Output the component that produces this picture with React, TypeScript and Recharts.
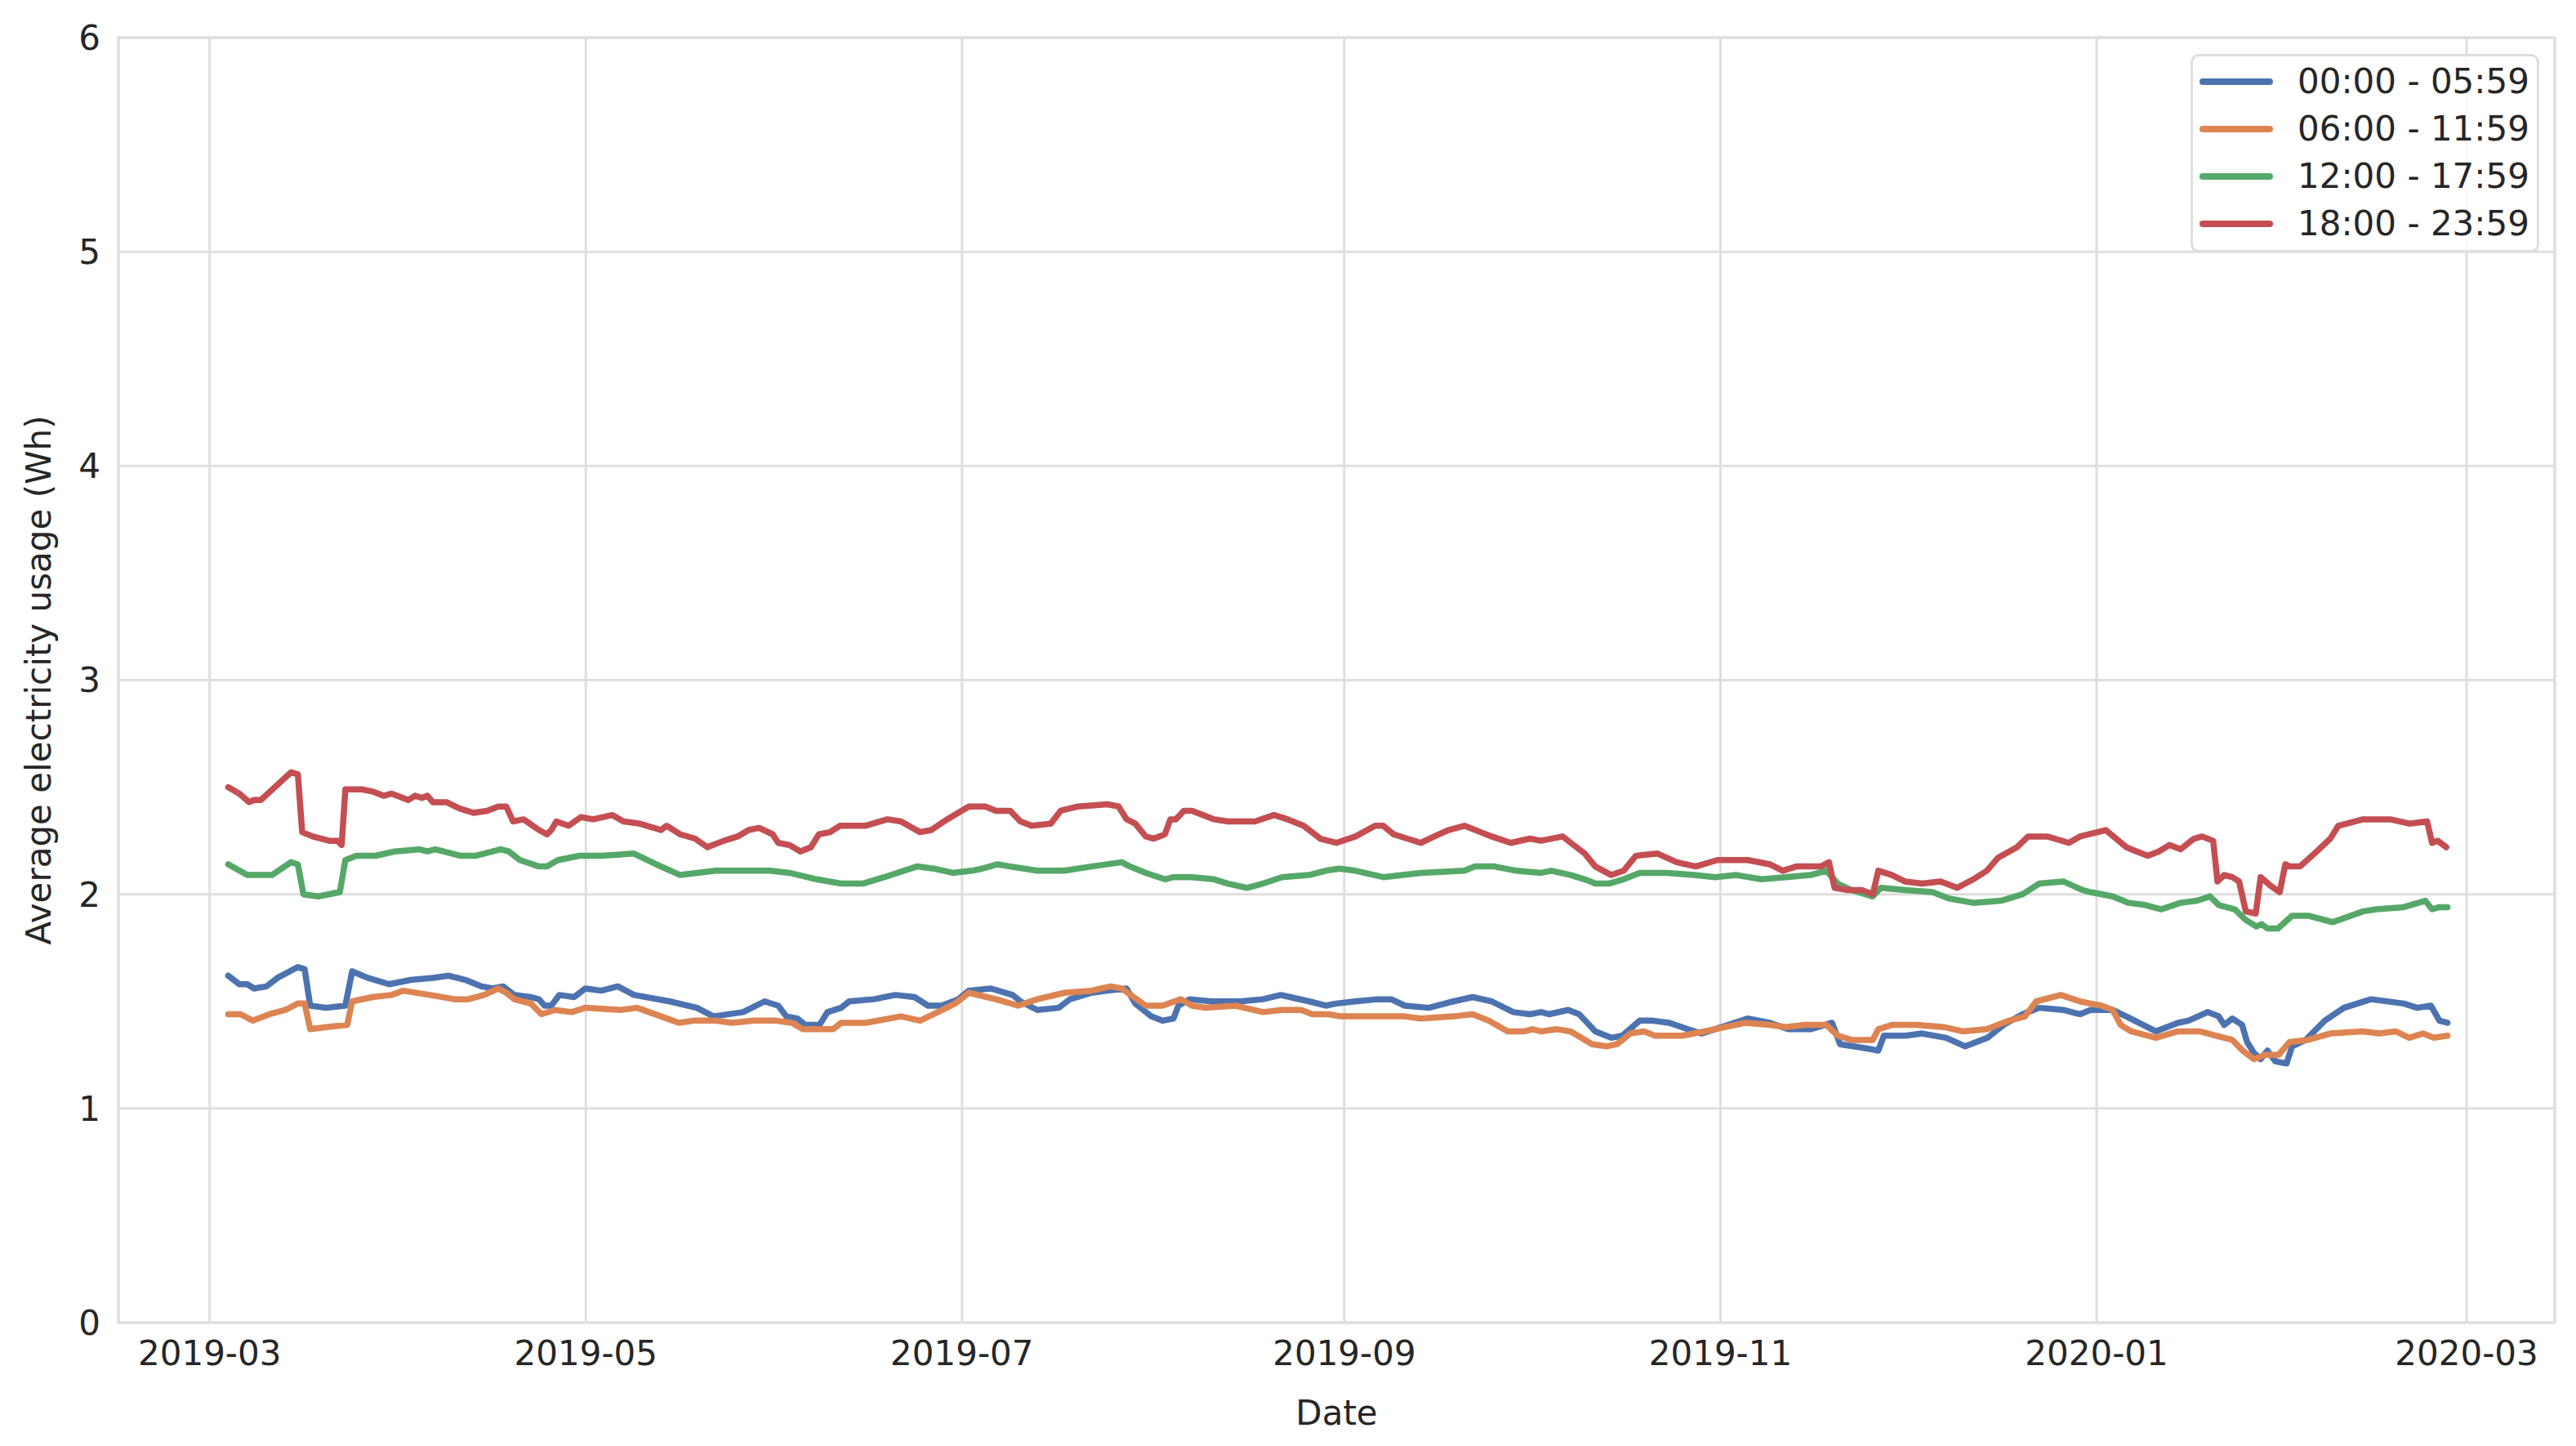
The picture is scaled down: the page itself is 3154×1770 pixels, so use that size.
import React from 'react';
import { LineChart, Line, XAxis, YAxis, CartesianGrid, ReferenceArea } from 'recharts';

// Day offsets are counted from 2019-03-01
const START = Date.UTC(2019, 2, 1);
const DAY = 86400000;

const tickLabels = ['2019-03', '2019-05', '2019-07', '2019-09', '2019-11', '2020-01', '2020-03'];
const yTicks = [0, 1, 2, 3, 4, 5, 6];

const blueDays = [3.0, 4.8, 6.1, 7.2, 9.2, 11.0, 14.3, 15.4, 16.3, 18.9, 22.0, 23.1, 25.6, 29.1, 32.6, 36.2, 38.8, 41.5, 44.1, 45.9, 47.6, 49.4, 52.1, 53.4, 54.3, 55.4, 56.7, 59.1, 60.9,
  63.5, 66.2, 68.8, 74.6, 79.0, 81.7, 86.5, 90.0, 92.2, 93.5, 95.3, 96.6, 98.9, 100.2, 102.4, 103.7, 107.7, 111.2, 114.3, 116.5, 118.7, 121.4,
  123.1, 126.7, 130.2, 131.5, 134.2, 137.7, 139.5, 143.0, 145.6, 148.7, 150.1, 152.7, 154.5, 156.3, 157.1, 158.9, 162.4, 164.6, 167.3, 170.8, 173.7, 175.2, 178.3, 181.0, 182.7,
  185.8, 189.4, 191.6, 193.8, 197.7, 201.7, 204.8, 207.9, 211.4, 214.1, 215.9, 217.2, 220.3, 222.1, 224.7, 227.3, 229.1, 231.9, 234.0, 236.7, 239.7, 241.9,
  244.1, 249.4, 253.0, 256.0, 259.6, 263.1, 264.4, 266.6, 268.8, 270.6, 271.5, 275.0, 277.7, 281.6, 284.7, 288.3, 290.9, 294.0, 296.7, 300.6, 303.3,
  305.0, 308.6, 310.8, 315.6, 319.2, 320.9, 324.0, 325.8, 326.7, 328.0, 329.6, 330.4, 331.5, 332.6, 333.7, 335.0, 336.8, 337.7, 339.9, 343.0, 346.1, 350.5, 355.8, 358.0, 360.2, 361.6, 362.9];
const blueValues = [1.62, 1.58, 1.58, 1.56, 1.57, 1.61, 1.66, 1.65, 1.48, 1.47, 1.48, 1.64, 1.61, 1.58, 1.60, 1.61, 1.62, 1.60, 1.57, 1.56, 1.57, 1.53, 1.52, 1.51, 1.48, 1.48, 1.53, 1.52, 1.56,
  1.55, 1.57, 1.53, 1.50, 1.47, 1.43, 1.45, 1.50, 1.48, 1.43, 1.42, 1.39, 1.39, 1.45, 1.47, 1.50, 1.51, 1.53, 1.52, 1.48, 1.48, 1.51,
  1.55, 1.56, 1.53, 1.50, 1.46, 1.47, 1.51, 1.54, 1.55, 1.56, 1.49, 1.43, 1.41, 1.42, 1.48, 1.51, 1.50, 1.50, 1.50, 1.51, 1.53, 1.52, 1.50, 1.48, 1.49,
  1.50, 1.51, 1.51, 1.48, 1.47, 1.50, 1.52, 1.50, 1.45, 1.44, 1.45, 1.44, 1.46, 1.44, 1.36, 1.33, 1.34, 1.41, 1.41, 1.40, 1.37, 1.35,
  1.37, 1.42, 1.40, 1.37, 1.37, 1.40, 1.30, 1.29, 1.28, 1.27, 1.34, 1.34, 1.35, 1.33, 1.29, 1.33, 1.39, 1.44, 1.47, 1.46, 1.44,
  1.46, 1.46, 1.43, 1.36, 1.40, 1.41, 1.45, 1.43, 1.39, 1.42, 1.39, 1.31, 1.26, 1.23, 1.27, 1.22, 1.21, 1.29, 1.32, 1.41, 1.47, 1.51, 1.49, 1.47, 1.48, 1.41, 1.40];

const orangeDays = [3.0, 5.0, 7.0, 9.7, 12.3, 14.3, 15.4, 16.3, 18.9, 22.3, 23.1, 26.4, 29.5, 31.3, 35.7, 39.7, 41.9, 44.5, 46.8, 48.1, 49.4, 52.1, 53.8, 56.0, 58.7, 60.9,
  66.6, 69.3, 73.2, 76.1, 78.5, 82.1, 84.7, 88.3, 91.8, 94.4, 96.2, 98.9, 101.1, 102.4, 106.4, 112.1, 115.2, 117.4, 120.9,
  123.1, 127.5, 131.1, 134.2, 138.6, 143.0, 146.1, 147.9, 151.8, 154.5, 157.5, 159.3, 161.5, 166.4, 170.8, 173.9, 177.0, 178.8, 181.4,
  183.5, 185.4, 187.6, 190.3, 193.8, 196.4, 201.7, 204.8, 207.4, 210.5, 213.2, 214.5, 215.9, 218.5, 220.7, 224.2, 226.5, 228.2, 230.4, 232.6, 234.4, 238.8, 242.4,
  244.1, 249.0, 253.0, 255.6, 258.7, 262.2, 264.0, 266.2, 269.7, 270.6, 272.8, 276.8, 281.2, 284.3, 288.2, 291.8, 294.4, 296.2, 300.2, 303.3,
  305.0, 306.8, 308.6, 309.9, 311.6, 315.6, 319.2, 322.7, 325.3, 328.0, 329.7, 331.5, 333.3, 335.5, 337.3, 340.3, 343.9, 349.2, 351.8, 354.5, 356.7, 358.9, 360.7, 362.9];
const orangeValues = [1.44, 1.44, 1.41, 1.44, 1.46, 1.49, 1.49, 1.37, 1.38, 1.39, 1.50, 1.52, 1.53, 1.55, 1.53, 1.51, 1.51, 1.53, 1.56, 1.54, 1.51, 1.49, 1.44, 1.46, 1.45, 1.47,
  1.46, 1.47, 1.43, 1.40, 1.41, 1.41, 1.40, 1.41, 1.41, 1.40, 1.37, 1.37, 1.37, 1.40, 1.40, 1.43, 1.41, 1.44, 1.49,
  1.54, 1.51, 1.48, 1.51, 1.54, 1.55, 1.57, 1.56, 1.48, 1.48, 1.51, 1.48, 1.47, 1.48, 1.45, 1.46, 1.46, 1.44, 1.44,
  1.43, 1.43, 1.43, 1.43, 1.43, 1.42, 1.43, 1.44, 1.41, 1.36, 1.36, 1.37, 1.36, 1.37, 1.36, 1.30, 1.29, 1.30, 1.35, 1.36, 1.34, 1.34, 1.36,
  1.37, 1.40, 1.39, 1.38, 1.39, 1.39, 1.34, 1.32, 1.32, 1.37, 1.39, 1.39, 1.38, 1.36, 1.37, 1.41, 1.43, 1.50, 1.53, 1.50,
  1.49, 1.48, 1.46, 1.39, 1.36, 1.33, 1.36, 1.36, 1.34, 1.32, 1.27, 1.23, 1.25, 1.25, 1.31, 1.32, 1.35, 1.36, 1.35, 1.36, 1.33, 1.35, 1.33, 1.34];

const greenDays = [3.0, 6.1, 8.3, 10.1, 13.2, 14.3, 15.2, 17.6, 21.1, 22.0, 23.8, 26.9, 30.0, 34.0, 35.3, 36.6, 40.6, 43.2, 47.2, 48.5, 50.3, 53.4, 54.7, 56.5, 60.0,
  63.5, 68.8, 72.4, 76.3, 82.1, 86.5, 90.9, 94.0, 98.4, 102.4, 105.9, 109.4, 114.7, 117.4, 120.5,
  123.6, 125.3, 127.8, 129.8, 134.2, 138.6, 143.0, 147.9, 149.2, 151.8, 154.9, 156.3, 159.3, 162.9, 165.1, 168.2, 170.8, 173.9, 178.3, 181.0,
  183.2, 185.8, 190.3, 196.4, 203.5, 205.2, 208.3, 211.9, 215.9, 217.6, 220.7, 223.0, 224.7, 226.9, 229.3, 231.9, 236.3, 240.7,
  244.1, 247.6, 251.6, 255.6, 259.6, 262.2, 264.0, 266.2, 269.7, 271.0, 275.0, 279.4, 282.1, 286.0, 290.5, 294.0, 296.7, 300.6, 303.7,
  305.0, 308.6, 311.2, 313.9, 316.5, 319.6, 322.3, 324.4, 325.8, 328.4, 330.2, 331.9, 332.8, 333.7, 335.4, 337.7, 340.3, 344.3, 349.2, 351.4, 355.8, 359.3, 360.4, 361.6, 362.9];
const greenValues = [2.14, 2.09, 2.09, 2.09, 2.15, 2.14, 2.00, 1.99, 2.01, 2.16, 2.18, 2.18, 2.20, 2.21, 2.20, 2.21, 2.18, 2.18, 2.21, 2.20, 2.16, 2.13, 2.13, 2.16, 2.18,
  2.18, 2.19, 2.14, 2.09, 2.11, 2.11, 2.11, 2.10, 2.07, 2.05, 2.05, 2.08, 2.13, 2.12, 2.10,
  2.11, 2.12, 2.14, 2.13, 2.11, 2.11, 2.13, 2.15, 2.13, 2.10, 2.07, 2.08, 2.08, 2.07, 2.05, 2.03, 2.05, 2.08, 2.09, 2.11,
  2.12, 2.11, 2.08, 2.10, 2.11, 2.13, 2.13, 2.11, 2.10, 2.11, 2.09, 2.07, 2.05, 2.05, 2.07, 2.10, 2.10, 2.09,
  2.08, 2.09, 2.07, 2.08, 2.09, 2.11, 2.05, 2.02, 1.99, 2.03, 2.02, 2.01, 1.98, 1.96, 1.97, 2.00, 2.05, 2.06, 2.02,
  2.01, 1.99, 1.96, 1.95, 1.93, 1.96, 1.97, 1.99, 1.95, 1.93, 1.88, 1.85, 1.86, 1.84, 1.84, 1.90, 1.90, 1.87, 1.92, 1.93, 1.94, 1.97, 1.93, 1.94, 1.94];

const redDays = [3.0, 4.8, 6.4, 7.2, 8.3, 13.2, 14.3, 15.0, 16.7, 19.4, 20.7, 21.4, 22.0, 24.7, 26.4, 28.2, 29.5, 32.2, 33.3, 34.4, 35.3, 36.2, 38.4, 40.6, 42.8, 45.0, 46.8, 48.1, 49.2, 50.9, 53.4, 54.7, 55.4, 56.2, 58.2, 60.2,
  62.2, 65.3, 67.1, 69.7, 73.2, 74.1, 76.3, 78.7, 80.7, 83.4, 85.6, 87.4, 89.1, 91.3, 92.2, 94.0, 95.8, 97.5, 98.8, 100.6, 102.2, 106.3, 109.9, 112.1, 115.2, 117.0, 119.6,
  123.1, 125.8, 127.5, 129.8, 131.5, 133.3, 136.4, 138.0, 140.8, 145.6, 147.4, 148.7, 150.1, 151.8, 153.1, 154.9, 155.8, 156.7, 158.0, 159.3, 162.9, 165.1, 169.5, 172.6, 174.8, 177.4, 180.1, 182.7,
  185.8, 189.0, 190.3, 192.0, 196.4, 198.6, 200.9, 203.5, 206.1, 207.9, 211.0, 214.1, 215.9, 219.4, 221.2, 223.0, 224.7, 227.3, 229.3, 231.3, 234.8, 237.9, 241.0, 244.5,
  249.4, 253.0, 255.1, 257.3, 259.1, 261.3, 262.6, 263.5, 265.7, 267.9, 269.7, 270.6, 272.8, 274.9, 277.7, 280.7, 283.4, 286.0, 288.2, 290.0, 293.1, 294.9, 298.0, 301.5, 303.3,
  307.5, 310.8, 312.5, 314.3, 316.1, 317.8, 319.6, 321.8, 323.1, 324.9, 325.6, 326.7, 328.0, 329.1, 330.2, 331.8, 332.6, 334.2, 335.7, 336.6, 337.3, 339.0, 341.7, 343.9, 345.2, 349.2, 353.6, 356.7, 359.6, 360.4, 361.3, 362.7];
const redValues = [2.50, 2.47, 2.43, 2.44, 2.44, 2.57, 2.56, 2.29, 2.27, 2.25, 2.25, 2.23, 2.49, 2.49, 2.48, 2.46, 2.47, 2.44, 2.46, 2.45, 2.46, 2.43, 2.43, 2.40, 2.38, 2.39, 2.41, 2.41, 2.34, 2.35, 2.30, 2.28, 2.30, 2.34, 2.32, 2.36,
  2.35, 2.37, 2.34, 2.33, 2.30, 2.32, 2.28, 2.26, 2.22, 2.25, 2.27, 2.30, 2.31, 2.28, 2.24, 2.23, 2.20, 2.22, 2.28, 2.29, 2.32, 2.32, 2.35, 2.34, 2.29, 2.30, 2.35,
  2.41, 2.41, 2.39, 2.39, 2.34, 2.32, 2.33, 2.39, 2.41, 2.42, 2.41, 2.35, 2.33, 2.27, 2.26, 2.28, 2.35, 2.35, 2.39, 2.39, 2.35, 2.34, 2.34, 2.37, 2.35, 2.32, 2.26, 2.24,
  2.27, 2.32, 2.32, 2.28, 2.24, 2.27, 2.30, 2.32, 2.29, 2.27, 2.24, 2.26, 2.25, 2.27, 2.23, 2.19, 2.13, 2.09, 2.11, 2.18, 2.19, 2.15, 2.13, 2.16,
  2.16, 2.14, 2.11, 2.13, 2.13, 2.13, 2.15, 2.03, 2.02, 2.02, 2.00, 2.11, 2.09, 2.06, 2.05, 2.06, 2.03, 2.07, 2.11, 2.17, 2.22, 2.27, 2.27, 2.24, 2.27,
  2.30, 2.22, 2.20, 2.18, 2.20, 2.23, 2.21, 2.26, 2.27, 2.25, 2.06, 2.09, 2.08, 2.06, 1.92, 1.91, 2.08, 2.04, 2.01, 2.14, 2.13, 2.13, 2.20, 2.26, 2.32, 2.35, 2.35, 2.33, 2.34, 2.24, 2.25, 2.22];

const seriesNames = ['00:00 - 05:59', '06:00 - 11:59', '12:00 - 17:59', '18:00 - 23:59'];
const seriesColors = ['#4C72B0', '#DD8452', '#55A868', '#C44E52'];
const seriesDays = [blueDays, orangeDays, greenDays, redDays];
const seriesValues = [blueValues, orangeValues, greenValues, redValues];

const series = seriesNames.map((name, i) => ({
  name,
  color: seriesColors[i],
  data: seriesDays[i].map((d, j) => ({ d, v: seriesValues[i][j] })),
}));

const xTicks = tickLabels.map((s) => {
  const [y, m] = s.split('-').map(Number);
  return Math.round((Date.UTC(y, m - 1, 1) - START) / DAY);
});
const xDomain: [number, number] = [-14.8, 380.3];

const TEXT = '#262626';
const GRID = '#dedede';
const FONT = '"DejaVu Sans", "Liberation Sans", sans-serif';

const YLabel = (props: any) => {
  const vb = props.viewBox || { x: 0, y: 46, width: 145, height: 1573 };
  const cx = vb.x + 62;
  const cy = vb.y + vb.height / 2;
  return (
    <text transform={`translate(${cx}, ${cy}) rotate(-90)`} textAnchor="middle" fontSize={42} fill={TEXT} fontFamily={FONT}>
      Average electricity usage (Wh)
    </text>
  );
};

const XLabel = (props: any) => {
  const vb = props.viewBox || { x: 145, y: 1619, width: 2983, height: 151 };
  return (
    <text x={vb.x + vb.width / 2} y={vb.y + 125} textAnchor="middle" fontSize={42} fill={TEXT} fontFamily={FONT}>
      Date
    </text>
  );
};

export default function App() {
  return (
    <div style={{ position: 'absolute', left: 0, top: 0, width: 3154, height: 1770, background: '#ffffff', fontFamily: FONT }}>
      <LineChart width={3154} height={1770} margin={{ top: 46, right: 26, bottom: 0, left: 0 }}>
        <CartesianGrid stroke={GRID} strokeWidth={3} />
        <XAxis
          type="number"
          dataKey="d"
          domain={xDomain}
          ticks={xTicks}
          allowDataOverflow
          height={151}
          tickLine={false}
          axisLine={false}
          tickSize={0}
          tickMargin={22}
          tick={{ fontSize: 42, fill: TEXT, fontFamily: FONT }}
          tickFormatter={(v: number) => tickLabels[xTicks.indexOf(v)] ?? ''}
          label={{ content: XLabel }}
        />
        <YAxis
          type="number"
          domain={[0, 6]}
          ticks={yTicks}
          width={145}
          tickLine={false}
          axisLine={false}
          tickSize={0}
          tickMargin={22}
          tick={{ fontSize: 42, fill: TEXT, fontFamily: FONT }}
          label={{ content: YLabel }}
        />
        <ReferenceArea x1={xDomain[0]} x2={xDomain[1]} y1={0} y2={6} fill="none" stroke={GRID} strokeWidth={3} ifOverflow="extendDomain" />
        {series.map((s) => (
          <Line
            key={s.name}
            data={s.data}
            dataKey="v"
            name={s.name}
            type="linear"
            stroke={s.color}
            strokeWidth={7.5}
            strokeLinejoin="round"
            strokeLinecap="round"
            dot={false}
            activeDot={false}
            isAnimationActive={false}
          />
        ))}
      </LineChart>
      <div
        style={{
          position: 'absolute',
          left: 2682,
          top: 66,
          width: 427,
          height: 243,
          boxSizing: 'border-box',
          border: `3px solid ${GRID}`,
          borderRadius: 10,
          background: 'rgba(255,255,255,0.8)',
        }}
      >
        {series.map((s, i) => (
          <div key={s.name} style={{ position: 'absolute', left: 0, top: 2 + 58 * i, height: 58, width: '100%' }}>
            <div style={{ position: 'absolute', left: 8, top: 25, width: 90, height: 8, borderRadius: 4, background: s.color }} />
            <div style={{ position: 'absolute', left: 128, top: 0, lineHeight: '58px', fontSize: 42, color: TEXT, whiteSpace: 'nowrap', fontFamily: FONT }}>
              {s.name}
            </div>
          </div>
        ))}
      </div>
    </div>
  );
}
